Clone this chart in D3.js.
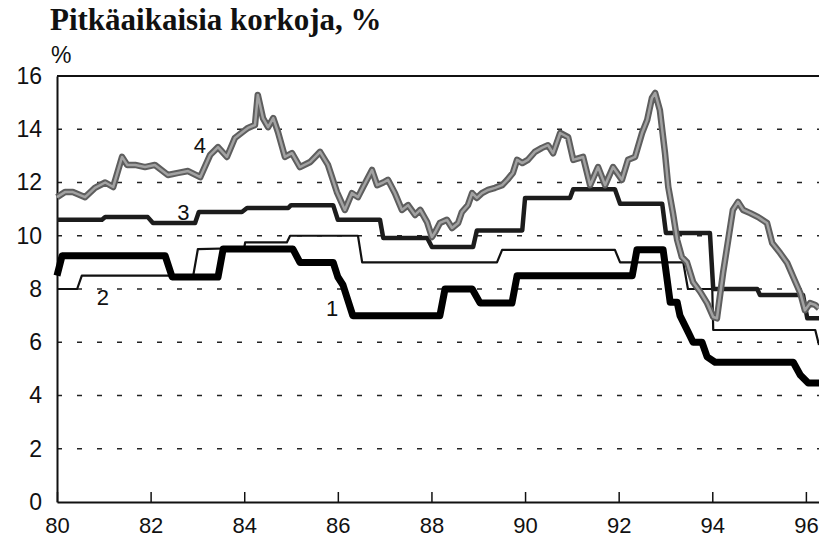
<!DOCTYPE html>
<html>
<head>
<meta charset="utf-8">
<script src="https://cdn.jsdelivr.net/npm/d3@7"></script>
<style>
  body { margin: 0; background: #fff; overflow: hidden; }
  .chart-svg { display: block; }
  .chart-svg text { font-family: 'Liberation Sans', Arial, sans-serif; fill: #111; }
  .chart-title { font-family: 'Liberation Serif', 'Times New Roman', serif !important; font-weight: bold; }
  .path-line { fill: none; stroke-linejoin: round; }
</style>
</head>
<body>
<div id="korko_chart"></div>
<script>
// Series as [year, percent]
const rate1 = [
  [80.00, 8.5], [80.11, 9.25], [82.31, 9.25], [82.46, 8.45], [83.44, 8.45], [83.55, 9.5],
  [85.04, 9.5], [85.19, 9.0], [85.90, 9.0], [86.00, 8.45], [86.11, 8.15], [86.32, 7.0],
  [88.18, 7.0], [88.29, 8.0], [88.87, 8.0], [89.04, 7.47], [89.72, 7.47], [89.83, 8.5],
  [92.29, 8.5], [92.39, 9.47], [92.95, 9.47], [93.10, 7.5], [93.25, 7.5], [93.31, 7.0],
  [93.48, 6.4], [93.59, 6.0], [93.78, 6.0], [93.89, 5.45], [94.06, 5.25], [95.73, 5.25],
  [95.88, 4.77], [96.05, 4.47], [96.28, 4.47]
]

const rate2 = [
  [80.00, 8.0], [80.43, 8.0], [80.53, 8.5], [82.91, 8.5], [83.01, 9.5], [84.00, 9.54],
  [84.02, 9.75], [84.91, 9.75], [84.98, 10.0], [86.43, 10.0], [86.52, 9.0], [89.40, 9.0],
  [89.51, 9.47], [91.92, 9.47], [92.03, 9.0], [93.38, 9.0], [93.48, 8.0], [94.00, 8.0],
  [94.02, 6.46], [96.20, 6.46], [96.28, 5.9]
]

const rate3 = [
  [80.00, 10.6], [80.96, 10.6], [81.03, 10.7], [81.94, 10.7], [82.05, 10.48], [82.95, 10.48],
  [83.03, 10.89], [83.95, 10.89], [84.06, 11.04], [84.94, 11.04], [85.00, 11.15], [85.90, 11.15],
  [86.00, 10.6], [86.90, 10.6], [86.97, 9.92], [87.91, 9.92], [88.01, 9.58], [88.89, 9.58],
  [88.97, 10.2], [89.94, 10.2], [90.00, 11.42], [90.96, 11.42], [91.03, 11.75], [91.92, 11.75],
  [92.03, 11.2], [92.93, 11.2], [93.01, 10.1], [93.95, 10.1], [94.02, 8.0], [94.96, 8.0],
  [95.02, 7.77], [95.94, 7.77], [96.03, 6.9], [96.28, 6.9]
]

const rate4 = [
  [80.00, 11.45], [80.17, 11.64], [80.34, 11.64], [80.60, 11.45], [80.81, 11.8], [81.03, 12.0],
  [81.20, 11.83], [81.39, 12.96], [81.50, 12.66], [81.67, 12.66], [81.88, 12.58], [82.09, 12.66],
  [82.37, 12.28], [82.59, 12.36], [82.80, 12.43], [83.06, 12.2], [83.27, 13.03], [83.44, 13.33],
  [83.63, 12.96], [83.80, 13.67], [84.02, 13.97], [84.08, 14.05], [84.23, 14.16], [84.29, 15.29],
  [84.40, 14.42], [84.51, 14.08], [84.62, 14.42], [84.72, 13.9], [84.87, 12.96], [85.02, 13.1],
  [85.19, 12.58], [85.41, 12.77], [85.62, 13.15], [85.79, 12.66], [85.98, 11.64], [86.15, 10.97],
  [86.30, 11.6], [86.43, 11.45], [86.54, 11.83], [86.73, 12.47], [86.84, 11.9], [86.97, 12.0],
  [87.07, 12.1], [87.22, 11.6], [87.37, 10.97], [87.50, 11.15], [87.65, 10.78], [87.76, 10.97],
  [87.91, 10.5], [88.01, 9.95], [88.08, 10.14], [88.18, 10.48], [88.33, 10.6], [88.44, 10.29],
  [88.57, 10.48], [88.65, 10.89], [88.78, 11.15], [88.87, 11.6], [88.97, 11.42], [89.08, 11.6],
  [89.21, 11.72], [89.36, 11.8], [89.51, 11.9], [89.62, 12.1], [89.74, 12.36], [89.83, 12.85],
  [89.94, 12.73], [90.06, 12.85], [90.21, 13.15], [90.36, 13.3], [90.49, 13.4], [90.60, 13.1],
  [90.75, 13.86], [90.92, 13.7], [91.03, 12.85], [91.24, 12.96], [91.39, 11.9], [91.56, 12.58],
  [91.71, 11.9], [91.88, 12.58], [92.07, 12.1], [92.20, 12.85], [92.35, 12.96], [92.50, 13.86],
  [92.61, 14.35], [92.71, 15.17], [92.78, 15.36], [92.88, 14.72], [92.99, 13.1], [93.06, 11.83],
  [93.16, 10.85], [93.25, 9.84], [93.35, 9.2], [93.46, 9.0], [93.59, 8.26], [93.74, 7.9],
  [93.89, 7.47], [94.02, 6.95], [94.10, 6.9], [94.23, 8.6], [94.34, 9.84], [94.44, 10.97],
  [94.55, 11.27], [94.66, 10.97], [94.81, 10.85], [94.98, 10.7], [95.17, 10.48], [95.28, 9.73],
  [95.45, 9.35], [95.60, 8.98], [95.73, 8.45], [95.88, 7.85], [95.98, 7.2], [96.09, 7.47],
  [96.20, 7.4], [96.28, 7.28]
]

const xTicks = [80, 82, 84, 86, 88, 90, 92, 94, 96]
const yTicks = [0, 2, 4, 6, 8, 10, 12, 14, 16]
const gridValues = [2, 4, 6, 8, 10, 12, 14]

// Series number labels: [label, year, percent]
const seriesLabels = [
  ['4', 83.05, 13.1],
  ['3', 82.7, 10.6],
  ['2', 80.98, 7.4],
  ['1', 85.88, 7.0]
]

const titleText = 'Pitkäaikaisia korkoja, %'
const unitText = '%'

//===========================================================================

const margin = { top: 76, right: 0, bottom: 39, left: 57 }
const width = 819
const height = 541
const innerWidth = width - margin.left - margin.right
const innerHeight = height - margin.top - margin.bottom

const svg = d3.select('#korko_chart')
  .append('svg')
  .attr('width', width)
  .attr('height', height)
  .attr('class', 'chart-svg')

svg.append('text')
  .attr('class', 'chart-title')
  .attr('x', 50)
  .attr('y', 30)
  .style('font-size', '31px')
  .text(titleText)

svg.append('text')
  .attr('x', 51)
  .attr('y', 63)
  .style('font-size', '23px')
  .text(unitText)

const g = svg.append('g')
  .attr('transform', `translate(${margin.left}, ${margin.top})`)

const xScale = d3.scaleLinear().domain([80, 96.28]).range([0, innerWidth])
const yScale = d3.scaleLinear().domain([0, 16]).range([innerHeight, 0])

//===========================================================================

// Dashed gridlines
g.append('g')
  .attr('class', 'grid')
  .selectAll('line')
  .data(gridValues)
  .join('line')
  .attr('x1', 0)
  .attr('x2', innerWidth)
  .attr('y1', d => yScale(d))
  .attr('y2', d => yScale(d))
  .attr('stroke', '#222')
  .attr('stroke-width', 1.5)
  .attr('stroke-dasharray', '5,15')

// Top frame line
g.append('line')
  .attr('x1', 0)
  .attr('x2', innerWidth)
  .attr('y1', yScale(16))
  .attr('y2', yScale(16))
  .attr('stroke', '#111')
  .attr('stroke-width', 2)

// Bottom axis - years
const xAxisCall = d3.axisBottom(xScale)
  .tickValues(xTicks)
  .tickSizeInner(-10)
  .tickSizeOuter(0)
  .tickPadding(15)
  .tickFormat(d => d)

const xAxis = g.append('g')
  .attr('class', 'x axis')
  .attr('transform', `translate(0, ${innerHeight})`)
  .call(xAxisCall)

xAxis.select('.domain').attr('stroke', '#111').attr('stroke-width', 2)
xAxis.selectAll('.tick line').attr('stroke', '#111').attr('stroke-width', 1.5)
xAxis.selectAll('text').style('font-size', '22px').attr('fill', '#111')

// Left axis - percent
const yAxisCall = d3.axisLeft(yScale)
  .tickValues(yTicks)
  .tickSize(0)
  .tickPadding(15)

const yAxis = g.append('g')
  .attr('class', 'y axis')
  .call(yAxisCall)

yAxis.select('.domain').attr('stroke', '#111').attr('stroke-width', 2)
yAxis.selectAll('text').style('font-size', '23px').attr('fill', '#111')

//===========================================================================

const rateLine = d3.line()
  .x(d => xScale(d[0]))
  .y(d => yScale(d[1]))

g.append('path')
  .datum(rate2)
  .attr('class', 'path-line')
  .attr('stroke', '#111')
  .attr('stroke-width', 2.2)
  .attr('d', rateLine)

g.append('path')
  .datum(rate3)
  .attr('class', 'path-line')
  .attr('stroke', '#1c1c1c')
  .attr('stroke-width', 4.5)
  .attr('d', rateLine)

// Gray halftone look: dark edge with lighter core
g.append('path')
  .datum(rate4)
  .attr('class', 'path-line')
  .attr('stroke', '#5e5e5e')
  .attr('stroke-width', 6.5)
  .attr('d', rateLine)

g.append('path')
  .datum(rate4)
  .attr('class', 'path-line')
  .attr('stroke', '#a2a2a2')
  .attr('stroke-width', 2.5)
  .attr('d', rateLine)

g.append('path')
  .datum(rate1)
  .attr('class', 'path-line')
  .attr('stroke', '#000')
  .attr('stroke-width', 7)
  .attr('d', rateLine)

// Series numbers
g.selectAll('.series-label')
  .data(seriesLabels)
  .join('text')
  .attr('class', 'series-label')
  .attr('x', d => xScale(d[1]))
  .attr('y', d => yScale(d[2]))
  .attr('text-anchor', 'middle')
  .style('font-size', '22px')
  .text(d => d[0])
</script>
</body>
</html>
